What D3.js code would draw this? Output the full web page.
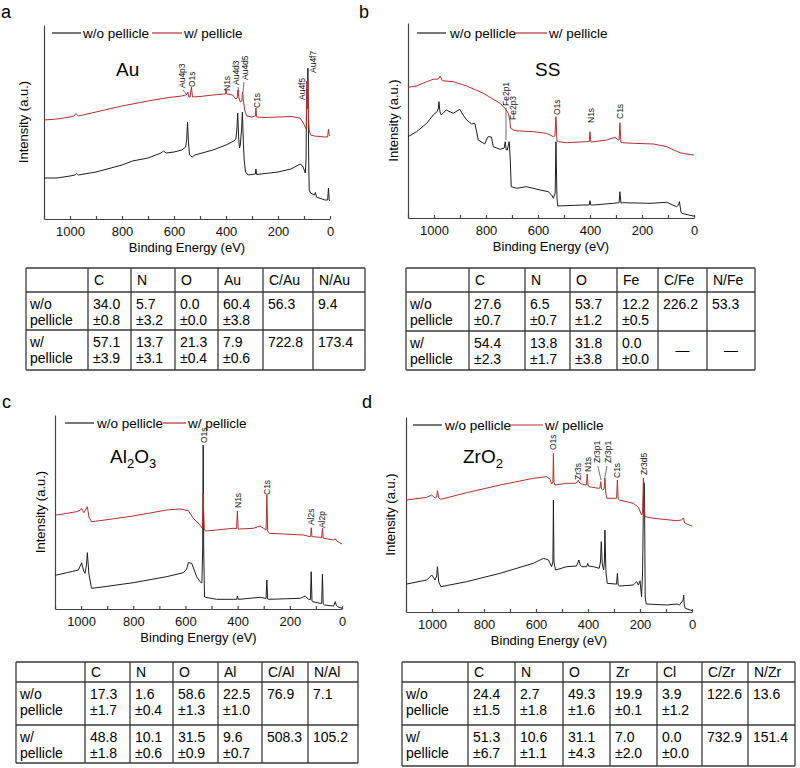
<!DOCTYPE html>
<html>
<head>
<meta charset="utf-8">
<script src="https://cdn.jsdelivr.net/npm/d3@7"></script>
<style>
  body { margin: 0; background: #fff; }
  svg { font-family: "Liberation Sans", Arial, Helvetica, sans-serif; }
  .axis path, .axis line { stroke: #444; stroke-width: 1.2; }
  .axis text { font-size: 13px; fill: #111; font-family: "Liberation Sans", Arial, sans-serif; }
</style>
</head>
<body>
<svg width="800" height="768"></svg>
<script>
// ---- data: XPS survey spectra, [binding energy (eV), intensity (a.u.)] ----
var energyTicks = [0, 100, 200, 300, 400, 500, 600, 700, 800, 900, 1000, 1100];

var auWithout = [[1100,41],[1050,41],[1000,43],[980,44],[975,45.5],[968,44],[900,47],[800,54],[760,58],[700,61],[650,66],[640,68],[630,66],[600,67],[570,69],[555,72],[551,80],[548,97],[544,75],[540,64],[530,62],[520,64],[450,69],[400,74],[370,78],[362,80],[358,90],[355,106],[351,80],[348,71],[345,74],[340,90],[337,107],[333,75],[330,59],[325,47],[315,44],[290,45],[287,45],[285,50],[282,44.5],[200,47],[150,50],[115,55],[105,53],[95,46],[92,60],[90,130],[88,110],[85,151],[82,60],[80,29],[75,26],[60,24],[56,26.5],[52,22],[20,19],[9,19],[6,31],[3,19],[0,18]];
var auWith = [[1100,99],[1050,100],[1000,102],[985,103],[977,105.5],[968,103],[900,107],[800,113],[700,118],[620,121.5],[570,123],[555,124],[550,125],[547,127],[543,122],[538,122],[533,132],[529,122],[500,122.5],[450,124],[410,125],[403,125],[400,129],[397,125],[375,124],[362,120],[357,121],[354,129],[350,121],[345,117],[339,118],[336,127],[333,118],[328,109],[320,103],[300,102],[290,103],[287,103],[285,111],[282,102],[250,101.5],[200,102],[150,102.5],[115,101],[105,97],[95,92],[91,90],[89,138],[87,110],[85,140],[82,100],[80,89],[75,84],[60,83],[20,82],[9,82],[6,90],[3,84],[0,83]];

var ssWithout = [[1100,81.3],[1067,86.3],[1028,94.7],[1003,103],[988,106.3],[983,110],[981,116.3],[977,106],[972,103],[953,108],[926,104.7],[901,108.7],[888,103],[874,98],[855,94],[843,94.7],[835,85],[830,78],[805,74],[795,80],[792,81.3],[779,81],[772,71.3],[746,68.7],[730,70],[726,76.3],[722,68],[718,68],[711,76.3],[707,60],[703,31.3],[682,29.7],[644,31.3],[592,28],[560,26.3],[545,22],[541,19.7],[534,25],[531,76.3],[527,20],[524,12],[426,13],[403,13],[400,17.3],[397,13],[387,13],[310,14.7],[291,15.3],[288,15.3],[285,26.3],[281,15],[276,15.3],[169,14.7],[105,15.7],[67,11.3],[59,13],[56,16.3],[50,6],[47,4.7],[20,3],[3,2],[0,2]];
var ssWith = [[1100,130.7],[1067,132],[1028,136.3],[1003,138.7],[983,139],[976,142],[968,137.3],[926,136.3],[874,132],[810,124.7],[746,114.7],[727,109.7],[714,104.7],[708,97],[705,89.7],[688,87.3],[618,86.3],[567,84.7],[541,81.3],[535,82],[531,101.3],[527,77],[522,76.3],[490,75.3],[413,76.3],[403,76.5],[400,86.3],[397,76.3],[394,76],[336,78],[304,80.7],[291,78],[288,78],[285,95.3],[281,75.5],[276,75.3],[233,74.7],[156,74],[105,71.3],[54,65.3],[28,64],[3,63],[0,63]];

var alWithout = [[1100,34],[1093,34],[1055,36.3],[1010,39],[1000,45],[998,46.3],[990,38],[985,35.7],[979,45],[976,56.3],[970,35],[960,20.7],[928,21.7],[800,26.3],[672,32.3],[608,36.3],[595,40],[589,46.3],[576,45.7],[565,38],[557,32.3],[544,27.3],[537,26],[534,60],[532,164],[530,60],[527,12],[523,11.7],[481,9.7],[417,9.7],[403,9.7],[401,13],[398,9.7],[394,9.7],[314,11.7],[295,10.7],[291,10.5],[288,29],[285,10],[279,9.7],[160,10.7],[141,13],[128,9.7],[121,9.5],[118,37.3],[115,8],[112,7.3],[84,5.7],[78,5.5],[75,34.7],[72,5],[68,4],[32,3],[26,7.3],[22,4],[17,2.3],[0,0.7]];
var alWith = [[1100,94],[1093,94],[1017,97.3],[1002,99],[998,100.7],[993,98],[989,96.3],[976,102.3],[970,92],[960,87.3],[928,88.3],[800,93],[672,99],[621,100],[589,98.3],[570,90.7],[544,84],[535,80.7],[534,95],[532,116],[530,95],[528,80],[523,78],[481,79],[417,80.7],[404,80.5],[401,98],[398,80],[394,80],[340,80.7],[314,83],[295,79.7],[291,79],[288,114],[285,78],[279,75.7],[224,75],[148,74],[122,72.3],[120,72.5],[118,81.3],[115,72.3],[112,72.3],[84,71.7],[78,71.5],[75,80.7],[72,71],[68,70.7],[32,69],[26,70.3],[20,68],[0,65]];

var zrWithout = [[1100,28],[1097,28],[1020,32],[1001,37],[988,32],[982,36],[979,45.3],[974,30],[966,25.3],[867,30.3],[738,38.7],[610,48.7],[571,53.7],[552,52],[540,45.3],[535,50],[533,112],[531,50],[525,42],[482,45.3],[444,46],[438,50],[435,52],[430,47],[424,45.3],[405,45.3],[401,48.7],[398,46],[379,45.3],[357,43.7],[352,50],[349,70.3],[345,48],[340,42],[337,50],[335,82],[331,40],[326,28.7],[296,28],[290,28],[287,38.7],[284,27],[279,26],[226,27],[213,30.3],[206,27],[200,31.3],[194,15.3],[190,40],[186,130],[183,128],[180,15],[176,8],[97,7],[58,8],[48,7],[34,12],[32,17],[30,8],[26,3.7],[0,1.3]];
var zrWith = [[1100,112],[1097,112],[1020,114.7],[1001,117],[988,113.7],[982,115],[979,121.3],[974,114],[966,112.7],[867,119.3],[738,127],[610,133.7],[559,135.3],[546,132.7],[540,128],[535,130],[533,158.7],[531,130],[527,127],[482,128.7],[450,128.7],[440,130],[437,132],[432,129],[424,128],[408,127],[406,127],[403,138],[400,127],[396,125.3],[360,123.7],[354,124],[351,130.3],[348,123],[344,122],[338,123],[335,134.3],[332,120],[328,113.7],[296,113.7],[290,114],[287,132],[284,113],[279,112],[226,108.7],[206,104.7],[194,97],[190,100],[187,133.7],[184,100],[180,95.3],[148,93.7],[58,91.3],[40,92],[34,94],[32,93.7],[30,90],[26,88.7],[0,86]];

// peak annotations: [label, BE, intensity at label foot]
var auPeaks = [["Au4p3",569,131],["O1s",531,132],["N1s",396,128],["Au4d3",362,134],["Au4d5",327,139],["C1s",281,111],["Au4f5",108,119],["Au4f7",65,146]];
var ssPeaks = [["Fe2p1",723,112],["Fe2p3",696,98],["O1s",527,103],["N1s",396,95],["C1s",285,99]];
var alPeaks = [["O1s",529,166],["N1s",399,101],["C1s",287,114],["Al2s",119,84],["Al2p",77,81]];
var zrPeaks = [["O1s",535,162],["Zr3s",438,132],["N1s",400,140],["Zr3p1",365,149],["Zr3p1",323,149],["C1s",288,134],["Zr3d5",185,137]];

// leader lines: [BE1, I1, BE2, I2]
var auLeaders = [[565,129,550,124],[354,132,350,127],[331,137,335,126]];
var ssLeaders = [[723,110,723,78]];
var alLeaders = [];
var zrLeaders = [[362,146,350,132],[327,146,335,135]];

// composition tables
var auHeader = ["", "C", "N", "O", "Au", "C/Au", "N/Au"];
var auRows = [["w/o\npellicle","34.0\n±0.8","5.7\n±3.2","0.0\n±0.0","60.4\n±3.8","56.3","9.4"],
              ["w/\npellicle","57.1\n±3.9","13.7\n±3.1","21.3\n±0.4","7.9\n±0.6","722.8","173.4"]];
var ssHeader = ["", "C", "N", "O", "Fe", "C/Fe", "N/Fe"];
var ssRows = [["w/o\npellicle","27.6\n±0.7","6.5\n±0.7","53.7\n±1.2","12.2\n±0.5","226.2","53.3"],
              ["w/\npellicle","54.4\n±2.3","13.8\n±1.7","31.8\n±3.8","0.0\n±0.0","—","—"]];
var alHeader = ["", "C", "N", "O", "Al", "C/Al", "N/Al"];
var alRows = [["w/o\npellicle","17.3\n±1.7","1.6\n±0.4","58.6\n±1.3","22.5\n±1.0","76.9","7.1"],
              ["w/\npellicle","48.8\n±1.8","10.1\n±0.6","31.5\n±0.9","9.6\n±0.7","508.3","105.2"]];
var zrHeader = ["", "C", "N", "O", "Zr", "Cl", "C/Zr", "N/Zr"];
var zrRows = [["w/o\npellicle","24.4\n±1.5","2.7\n±1.8","49.3\n±1.6","19.9\n±0.1","3.9\n±1.2","122.6","13.6"],
              ["w/\npellicle","51.3\n±6.7","10.6\n±1.1","31.1\n±4.3","7.0\n±2.0","0.0\n±0.0","732.9","151.4"]];

var seriesNames = ["w/o pellicle", "w/ pellicle"];
var black = "#1e1e1e", red = "#b3302c";

// ---- layout ----
var panels = [
  { letter: "a", lx: 1, ly: 18, left: 44, right: 330, top: 25, bottom: 219, ylab: 28,
    mat: [["Au", 0]], mx: 116, my: 76, leg: [52, 83, 152, 184, 33],
    wo: auWithout, w: auWith, peaks: auPeaks, leaders: auLeaders },
  { letter: "b", lx: 359, ly: 18, left: 408, right: 694, top: 23, bottom: 218, ylab: 398,
    mat: [["SS", 0]], mx: 535, my: 76, leg: [417, 450, 515, 549, 33],
    wo: ssWithout, w: ssWith, peaks: ssPeaks, leaders: ssLeaders },
  { letter: "c", lx: 2, ly: 408, left: 55, right: 342, top: 415, bottom: 609, ylab: 45,
    mat: [["Al", 0], ["2", 1], ["O", 0], ["3", 1]], mx: 110, my: 463, leg: [65, 97, 163, 188, 423],
    wo: alWithout, w: alWith, peaks: alPeaks, leaders: alLeaders },
  { letter: "d", lx: 362, ly: 408, left: 406, right: 692, top: 417, bottom: 612, ylab: 395,
    mat: [["ZrO", 0], ["2", 1]], mx: 463, my: 463, leg: [413, 445, 510, 545, 425],
    wo: zrWithout, w: zrWith, peaks: zrPeaks, leaders: zrLeaders }
];

var tables = [
  { header: auHeader, rows: auRows, cols: [26, 88, 131, 175, 218, 263, 313, 365], lines: [268, 292, 330, 370] },
  { header: ssHeader, rows: ssRows, cols: [406, 469, 525, 570, 617, 658, 707, 755], lines: [268, 292, 331, 370] },
  { header: alHeader, rows: alRows, cols: [16, 85, 130, 173, 218, 262, 308, 358], lines: [662, 682, 725, 763] },
  { header: zrHeader, rows: zrRows, cols: [402, 468, 515, 563, 610, 657, 702, 748, 795], lines: [662, 682, 725, 766] }
];

var svg = d3.select('svg');

function drawPanel(p) {
  var g = svg.append('g');
  var x = d3.scaleLinear().domain([1100, 0]).range([p.left, p.right]);
  var y = d3.scaleLinear().domain([0, p.bottom - p.top]).range([p.bottom, p.top]);

  // axes
  var xAxis = d3.axisBottom(x)
    .tickValues(energyTicks)
    .tickSize(-3)
    .tickSizeOuter(0)
    .tickPadding(8)
    .tickFormat(d => (d % 200 === 0 && d <= 1000) ? d : '');
  g.append('g').attr('class', 'axis')
    .attr('transform', 'translate(0,' + p.bottom + ')')
    .call(xAxis);
  g.append('g').attr('class', 'axis')
    .attr('transform', 'translate(' + p.left + ',0)')
    .call(d3.axisLeft(y).tickValues([]).tickSizeOuter(0));

  // spectra
  var line = d3.line().x(d => x(d[0])).y(d => y(d[1]));
  g.append('path').datum(p.wo).attr('d', line)
    .attr('fill', 'none').attr('stroke', black).attr('stroke-width', 1).attr('stroke-linejoin', 'round');
  g.append('path').datum(p.w).attr('d', line)
    .attr('fill', 'none').attr('stroke', red).attr('stroke-width', 1).attr('stroke-linejoin', 'round');

  // peak labels
  g.selectAll('.lead').data(p.leaders).enter().append('line')
    .attr('x1', d => x(d[0])).attr('y1', d => y(d[1]))
    .attr('x2', d => x(d[2])).attr('y2', d => y(d[3]))
    .attr('stroke', '#333').attr('stroke-width', 0.7);
  g.selectAll('.pk').data(p.peaks).enter().append('text')
    .attr('transform', d => 'translate(' + x(d[1]) + ',' + y(d[2]) + ') rotate(-90)')
    .attr('dy', '0.35em')
    .style('font-size', '8.5px')
    .style('fill', '#111')
    .text(d => d[0]);

  // axis titles
  g.append('text')
    .attr('x', (p.left + p.right) / 2)
    .attr('y', p.bottom + 33)
    .style('text-anchor', 'middle')
    .style('font-size', '13px')
    .text('Binding Energy (eV)');
  g.append('text')
    .attr('transform', 'rotate(-90)')
    .attr('x', -(p.top + p.bottom) / 2)
    .attr('y', p.ylab)
    .style('text-anchor', 'middle')
    .style('font-size', '13px')
    .text('Intensity (a.u.)');

  // legend
  var L = p.leg;
  g.append('line').attr('x1', L[0]).attr('x2', L[0] + 29).attr('y1', L[4]).attr('y2', L[4])
    .attr('stroke', black).attr('stroke-width', 1.2);
  g.append('text').attr('x', L[1]).attr('y', L[4] + 4.5).style('font-size', '13.5px').text(seriesNames[0]);
  g.append('line').attr('x1', L[2]).attr('x2', L[3] - 2).attr('y1', L[4]).attr('y2', L[4])
    .attr('stroke', red).attr('stroke-width', 1.2);
  g.append('text').attr('x', L[3]).attr('y', L[4] + 4.5).style('font-size', '13.5px').text(seriesNames[1]);

  // material label
  var mt = g.append('text').attr('x', p.mx).attr('y', p.my).style('font-size', '19px');
  p.mat.forEach(function (m, i) {
    var prevSub = i > 0 && p.mat[i - 1][1];
    var ts = mt.append('tspan').text(m[0]);
    if (m[1]) ts.attr('dy', 5).style('font-size', '13px');
    else if (prevSub) ts.attr('dy', -5);
  });

  // panel letter
  svg.append('text').attr('x', p.lx).attr('y', p.ly).style('font-size', '18px').text(p.letter);
}

function drawTable(t) {
  var g = svg.append('g');
  var top = t.lines[0], bot = t.lines[t.lines.length - 1];
  var l = t.cols[0], r = t.cols[t.cols.length - 1];
  g.selectAll('.v').data(t.cols).enter().append('line')
    .attr('x1', d => d).attr('x2', d => d).attr('y1', top).attr('y2', bot)
    .attr('stroke', '#3a3a3a').attr('stroke-width', 1.3);
  g.selectAll('.h').data(t.lines).enter().append('line')
    .attr('x1', l).attr('x2', r).attr('y1', d => d).attr('y2', d => d)
    .attr('stroke', '#3a3a3a').attr('stroke-width', 1.3);

  // header
  t.header.forEach(function (h, i) {
    if (!h) return;
    g.append('text').attr('x', t.cols[i] + 6)
      .attr('y', (t.lines[0] + t.lines[1]) / 2 + 5)
      .style('font-size', '14px').text(h);
  });
  // body
  t.rows.forEach(function (row, ri) {
    var y0 = t.lines[ri + 1], y1 = t.lines[ri + 2];
    row.forEach(function (cell, ci) {
      var x0 = t.cols[ci], x1 = t.cols[ci + 1];
      if (cell === "—") {
        g.append('text').attr('x', (x0 + x1) / 2).attr('y', (y0 + y1) / 2 + 4)
          .style('text-anchor', 'middle').style('font-size', '14px').text(cell);
        return;
      }
      var txt = g.append('text').attr('x', x0 + (ci === 0 ? 4 : 5)).attr('y', y0 + 17).style('font-size', '14px');
      cell.split('\n').forEach(function (s, k) {
        txt.append('tspan').attr('x', x0 + (ci === 0 ? 4 : 5)).attr('dy', k === 0 ? 0 : 16).text(s);
      });
    });
  });
}

panels.forEach(drawPanel);
tables.forEach(drawTable);
</script>
</body>
</html>
